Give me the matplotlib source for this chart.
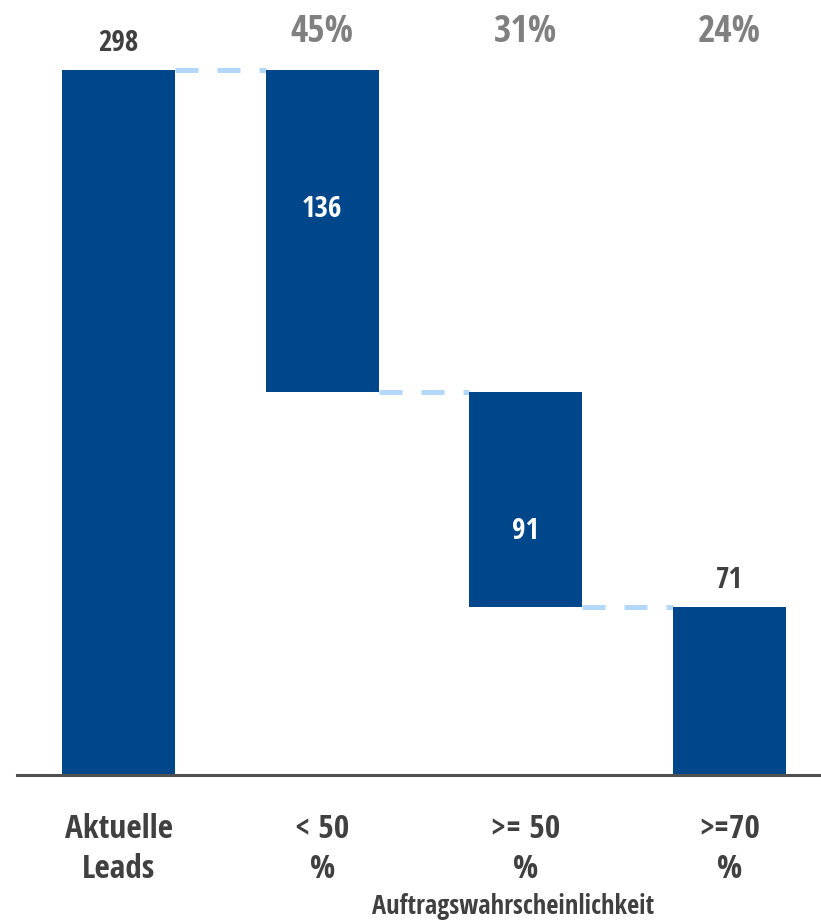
import matplotlib
matplotlib.use("Agg")
import matplotlib.pyplot as plt
import matplotlib.font_manager as _fm
import numpy as np

# ── Data ─────────────────────────────────────────────────────────────────────
categories = ["Aktuelle\nLeads", "< 50\n%", ">= 50\n%", ">=70\n%"]
values = [298, 136, 91, 71]
share_labels = ["", "45%", "31%", "24%"]
axis_note = "Auftragswahrscheinlichkeit"

# ── Styles ───────────────────────────────────────────────────────────────────
BAR_COLOR = "#00468B"
LINK_COLOR = "#B4D8FA"
SHARE_COLOR = "#808080"
TEXT_COLOR = "#404040"
BASE_COLOR = "#505050"

# narrow font if one is installed, else Open Sans
_available = {f.name for f in _fm.fontManager.ttflist}
_candidates = ["Open Sans Condensed", "Roboto Condensed", "Liberation Sans Narrow", "Open Sans"]
_font = next((c for c in _candidates if c in _available), "DejaVu Sans")
plt.rcParams["font.family"] = [_font, "DejaVu Sans"]

# waterfall: first bar is total, the rest step down from it
bottoms = [0]
running = values[0]
for v in values[1:]:
    running -= v
    bottoms.append(running)
bottoms[-1] = 0
tops = [b + v for b, v in zip(bottoms, values)]

fig = plt.figure(figsize=(8.21, 9.23), dpi=100)
ax = fig.add_axes([17 / 821, (923 - 775) / 923, 804 / 821, 775 / 923])

x = np.arange(len(values))
width = 0.556
ax.bar(x, values, bottom=bottoms, width=width, color=BAR_COLOR, zorder=2)

# dashed connectors between bars
for i in range(len(values) - 1):
    level = tops[i + 1] if i == 0 else bottoms[i]
    ax.plot([x[i] + width / 2, x[i + 1] - width / 2], [level, level],
            color=LINK_COLOR, linewidth=3.6, dashes=(4.6, 3.8),
            solid_capstyle="butt", dash_capstyle="butt", zorder=1)

# value labels
for i, (v, b, t) in enumerate(zip(values, bottoms, tops)):
    if i == 0 or i == len(values) - 1:
        ax.text(x[i], t + 11, str(v), ha="center", va="center",
                fontsize=21, fontweight="bold", color=TEXT_COLOR)
    else:
        ax.text(x[i], t - 59, str(v), ha="center", va="center",
                fontsize=21, fontweight="bold", color="white")

# share labels above
for i, s in enumerate(share_labels):
    if s:
        ax.text(x[i], 314, s, ha="center", va="center",
                fontsize=27, fontweight="bold", color=SHARE_COLOR)

ax.set_xlim(-0.50, 3.45)
ax.set_ylim(0, 327.5)
for side in ["top", "right", "left"]:
    ax.spines[side].set_visible(False)
ax.spines["bottom"].set_color(BASE_COLOR)
ax.spines["bottom"].set_linewidth(2.2)
ax.set_yticks([])
ax.set_xticks(x)
ax.set_xticklabels(categories, fontsize=24, fontweight="bold", color=TEXT_COLOR,
                   linespacing=1.28)
ax.tick_params(axis="x", length=0, pad=27)

fig.text(513 / 821, 1 - 906 / 923, axis_note, ha="center", va="center",
         fontsize=19, fontweight="bold", color=TEXT_COLOR)

fig.savefig("out.png", dpi=100)
